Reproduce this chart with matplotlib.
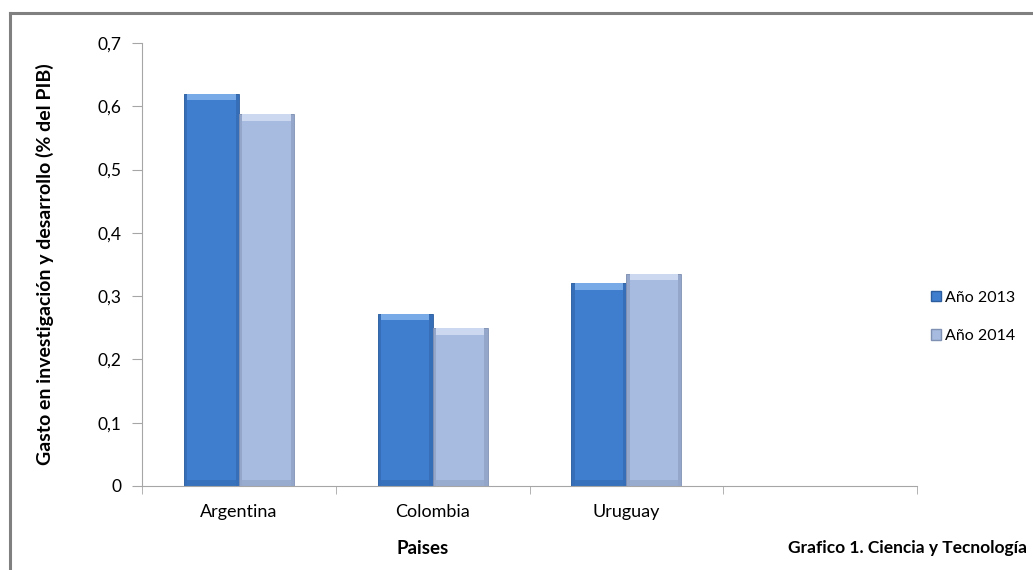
import matplotlib
matplotlib.use("Agg")
import matplotlib.pyplot as plt
import numpy as np
from matplotlib.lines import Line2D
from matplotlib.patches import Rectangle

plt.rcParams['font.family'] = ['Lato', 'DejaVu Sans']

categories = ["Argentina", "Colombia", "Uruguay", ""]
series_names = ["Año 2013", "Año 2014"]
values_2013 = [0.62, 0.272, 0.32, np.nan]
values_2014 = [0.587, 0.249, 0.335, np.nan]
yticks = [0, 0.1, 0.2, 0.3, 0.4, 0.5, 0.6, 0.7]
ytick_labels = ["0", "0,1", "0,2", "0,3", "0,4", "0,5", "0,6", "0,7"]

colors = ["#3F7ECE", "#A6BBDF"]
light = ["#79AAE8", "#CCD8EF"]
dark = ["#2C5E9F", "#7F90B3"]

fig = plt.figure(figsize=(10.33, 5.70), dpi=100)
ax = fig.add_axes([0.1375, 0.1474, 0.8877 - 0.1375, 0.9246 - 0.1474])

x = np.arange(len(categories))
w = 0.284
for i, vals in enumerate([values_2013, values_2014]):
    offs = (i - 0.5) * w
    ax.bar(x + offs, vals, width=w, color=colors[i], edgecolor=dark[i],
           linewidth=0.6, label=series_names[i], zorder=2)
    # bevel effect
    for xi, v in zip(x, vals):
        if np.isnan(v):
            continue
        left = xi + offs - w / 2
        bw = w * 0.06
        bh = 0.010
        ax.add_patch(Rectangle((left + bw, v - bh), w - 2 * bw, bh, color=light[i], zorder=3, lw=0))
        ax.add_patch(Rectangle((left, 0), bw, v, color=dark[i], alpha=0.45, zorder=3, lw=0))
        ax.add_patch(Rectangle((left + w - bw, 0), bw, v, color=dark[i], alpha=0.45, zorder=3, lw=0))
        ax.add_patch(Rectangle((left + bw, 0), w - 2 * bw, bh, color=dark[i], alpha=0.35, zorder=3, lw=0))

ax.set_xlim(-0.5, len(categories) - 0.5)
ax.set_ylim(0, 0.7)
ax.set_yticks(yticks)
ax.set_yticklabels(ytick_labels, fontsize=12.5)
ax.set_xticks(x[:3])
ax.set_xticklabels(categories[:3], fontsize=13)
ax.set_xticks(np.arange(len(categories) + 1) - 0.5, minor=True)
ax.tick_params(axis='x', which='major', length=0, pad=13)
ax.tick_params(axis='x', which='minor', length=6, color='#A6A6A6', direction='out')
ax.tick_params(axis='y', length=7, color='#A6A6A6', pad=8)

for s in ['top', 'right']:
    ax.spines[s].set_visible(False)
ax.spines['left'].set_color('#A6A6A6')
ax.spines['bottom'].set_color('#A6A6A6')

ax.set_ylabel("Gasto en investigación y desarrollo (% del PIB)", fontsize=14,
              fontweight='bold')
ax.yaxis.set_label_coords(-0.113, 0.5)
fig.text(423 / 1033, 1 - 548 / 570, "Paises", fontsize=13.5, fontweight='bold',
         ha='center', va='center')
fig.text(1027 / 1033, 1 - 548 / 570, "Grafico 1. Ciencia y Tecnología", fontsize=12.5,
         fontweight='bold', ha='right', va='center')

handles = [Rectangle((0, 0), 1, 1, facecolor=colors[i], edgecolor=dark[i]) for i in range(2)]
fig.legend(handles, series_names, loc='center left', bbox_to_anchor=(0.895, 1 - 317 / 570),
           frameon=False, fontsize=11.5, handlelength=0.65, handleheight=0.65,
           handletextpad=0.25, labelspacing=1.55, borderaxespad=0)

# outer frame (left and top edges)
fig.add_artist(Line2D([9.5 / 1033, 9.5 / 1033], [0, 1 - 12.5 / 570], color='#808080', lw=2.2))
fig.add_artist(Line2D([9.5 / 1033, 1], [1 - 12.5 / 570, 1 - 12.5 / 570], color='#808080', lw=2.2))

fig.savefig("out.png", dpi=100)
